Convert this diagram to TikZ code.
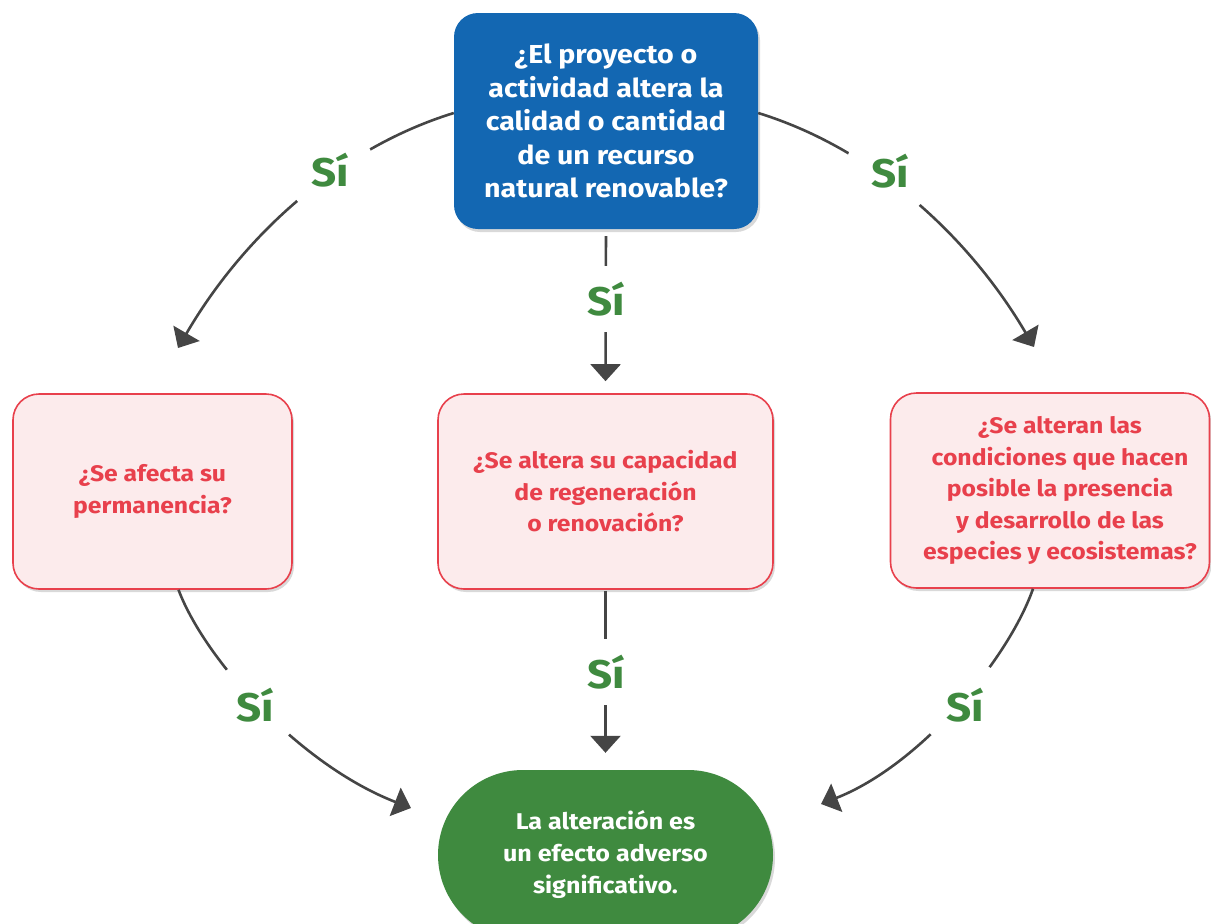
\documentclass[tikz,border=0pt]{standalone}
\usepackage{fontspec}
\setmainfont{Fira Sans}[FakeStretch=1.1]
\usetikzlibrary{arrows.meta,shadows}
\definecolor{qblue}{RGB}{19,103,178}
\definecolor{qpink}{RGB}{252,235,236}
\definecolor{qred}{RGB}{232,64,76}
\definecolor{qgreen}{RGB}{63,138,63}
\definecolor{qgray}{RGB}{69,69,69}
\begin{document}
\begin{tikzpicture}[x=1pt,y=-1pt,
  shadowed/.style={drop shadow={shadow xshift=2pt,shadow yshift=-3pt,opacity=0.15,fill=black}},
  topbox/.style={rectangle, rounded corners=24pt, fill=qblue, text=white,
    font=\fontsize{26}{33.6}\selectfont\bfseries, align=center,
    minimum width=304pt, minimum height=216pt, inner sep=0pt, shadowed},
  qbox/.style={rectangle, rounded corners=26pt, fill=qpink, draw=qred, line width=1.6pt,
    text=qred, font=\fontsize{22.5}{31.5}\selectfont\bfseries, align=center,
    minimum height=195pt, inner sep=0pt, shadowed},
  qtext/.style={text=qred, font=\fontsize{22.5}{31.5}\selectfont\bfseries, align=center, inner sep=0pt},
  resbox/.style={rectangle, rounded corners=85pt, fill=qgreen, text=white,
    font=\fontsize{22.8}{32}\selectfont\bfseries, align=center,
    minimum width=335pt, minimum height=170pt, inner sep=0pt, shadowed},
  conn/.style={draw=qgray, line width=2.6pt, -{Triangle[length=17pt,width=30pt]}},
  yes/.style={text=qgreen, font=\fontsize{40}{40}\selectfont\bfseries, fill=white,
    circle, inner sep=0pt, minimum size=90pt},
  yesv/.style={yes, minimum size=66pt}
]
\useasboundingbox (0,0) rectangle (1211,924);

% nodes
\node[topbox] (top) at (606,121) {¿El proyecto o\\actividad altera la\\calidad o cantidad\\de un recurso\\natural renovable?};
\node[qbox, minimum width=279pt] (left) at (152.5,491.5) {¿Se afecta su\\permanencia?};
\node[qbox, minimum width=335pt] (mid) at (605.5,491.5) {¿Se altera su capacidad\\de regeneración\\o renovación?};
\node[qbox, minimum width=319pt] (right) at (1050,490.5) {};
\node[qtext] (righttext) at ([xshift=10pt]right.center) {¿Se alteran las\\condiciones que hacen\\posible la presencia\\y desarrollo de las\\especies y ecosistemas?};
\node[resbox] (res) at (605.5,855) {La alteración es\\un efecto adverso\\significativo.};

% free ends
\coordinate (tl) at (178,348);
\coordinate (tr) at (1034,347);
\coordinate (bl) at (411,808);
\coordinate (br) at (821,804);

% connectors
\draw[conn] ([yshift=8pt]top.west) .. controls (337,149) and (242,238) .. (tl);
\draw[conn] ([yshift=8pt]top.east) .. controls (875,149) and (970,238) .. (tr);
\draw[conn, shorten <=7pt, shorten >=12pt] (top.south) -- (mid.north);
\draw[conn] ([xshift=26pt]left.south) .. controls (205,660) and (300,765) .. (bl);
\draw[conn, shorten <=1pt, shorten >=17pt] (mid.south) -- (res.north);
\draw[conn] ([xshift=-17pt]right.south) .. controls (1008,660) and (920,765) .. (br);

% labels
\node[yes] (s1) at (330,170) {Sí};
\node[yes] (s2) at (890,171) {Sí};
\node[yesv] (s3) at (606,299) {Sí};
\node[yes] (s4) at (255,705) {Sí};
\node[yesv] (s5) at (606,672) {Sí};
\node[yes] (s6) at (965,705) {Sí};
\end{tikzpicture}
\end{document}
